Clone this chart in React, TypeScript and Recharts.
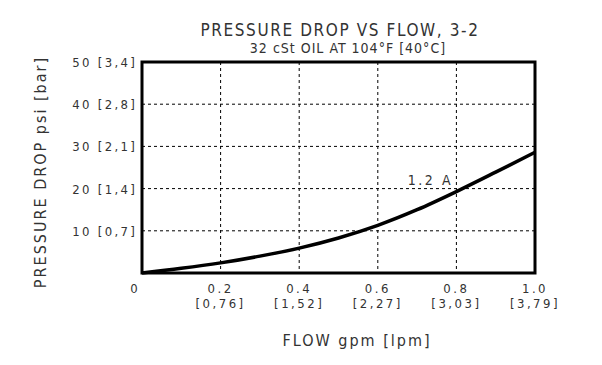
import { LineChart, Line, XAxis, YAxis, CartesianGrid, ReferenceArea } from 'recharts';

const FLOW = [0, 0.1, 0.2, 0.3, 0.4, 0.5, 0.6, 0.7, 0.8, 0.9, 1.0];
const DROP = [0, 1.1, 2.4, 4.0, 5.9, 8.3, 11.3, 15.0, 19.3, 23.9, 28.6];

const X_TICKS = [0, 0.2, 0.4, 0.6, 0.8, 1.0];
const X_TICK_LABELS = ['0', '0.2', '0.4', '0.6', '0.8', '1.0'];
const X_TICK_METRIC = ['', '[0,76]', '[1,52]', '[2,27]', '[3,03]', '[3,79]'];

const Y_TICKS = [10, 20, 30, 40, 50];
const Y_TICK_LABELS = ['10 [0,7]', '20 [1,4]', '30 [2,1]', '40 [2,8]', '50 [3,4]'];

const FONT = '"DejaVu Sans Condensed", "DejaVu Sans", sans-serif';
const INK = '#333';

const data = FLOW.map((f, i) => ({ flow: f, drop: DROP[i] }));

function XTick(props: any) {
  const { x, y, payload } = props;
  const i = X_TICKS.indexOf(payload.value);
  if (i === 0) {
    return (
      <text x={x - 8} y={y + 12} textAnchor="middle" fontSize={13} fill={INK} fontFamily={FONT}>
        0
      </text>
    );
  }
  return (
    <g>
      <text x={x} y={y + 12} textAnchor="middle" fontSize={13} fill={INK} fontFamily={FONT} letterSpacing={2.5}>
        {X_TICK_LABELS[i]}
      </text>
      <text x={x} y={y + 27} textAnchor="middle" fontSize={13} fill={INK} fontFamily={FONT} letterSpacing={2.5}>
        {X_TICK_METRIC[i]}
      </text>
    </g>
  );
}

function YTick(props: any) {
  const { x, y, payload } = props;
  const i = Y_TICKS.indexOf(payload.value);
  if (i < 0) return null;
  return (
    <text x={x + 3} y={y + 5} textAnchor="end" fontSize={13} fill={INK} fontFamily={FONT} letterSpacing={2.3}>
      {Y_TICK_LABELS[i]}
    </text>
  );
}

export default function App() {
  return (
    <div style={{ position: 'absolute', left: 0, top: 0, width: 602, height: 365, background: '#fff' }}>
      <svg width={602} height={365} style={{ position: 'absolute', left: 0, top: 0 }}>
        <text x={340} y={36} textAnchor="middle" fontSize={17} fill={INK} fontFamily={FONT} letterSpacing={1.6}>
          PRESSURE DROP VS FLOW, 3-2
        </text>
        <text x={348} y={53} textAnchor="middle" fontSize={14} fill={INK} fontFamily={FONT} letterSpacing={1}>
          32 cSt OIL AT 104°F [40°C]
        </text>
        <text
          x={0}
          y={0}
          transform="translate(46,172) rotate(-90)"
          textAnchor="middle"
          fontSize={16}
          fill={INK}
          fontFamily={FONT}
          letterSpacing={2}
        >
          PRESSURE DROP psi [bar]
        </text>
        <text x={357} y={346} textAnchor="middle" fontSize={16} fill={INK} fontFamily={FONT} letterSpacing={2}>
          FLOW gpm [lpm]
        </text>
      </svg>
      <LineChart
        width={602}
        height={365}
        data={data}
        margin={{ top: 62, right: 67, left: 0, bottom: 0 }}
        style={{ position: 'absolute', left: 0, top: 0 }}
      >
        <CartesianGrid stroke="#000" strokeDasharray="3 3" strokeWidth={1} />
        <XAxis
          dataKey="flow"
          type="number"
          domain={[0, 1]}
          ticks={X_TICKS}
          height={92}
          axisLine={false}
          tickLine={false}
          tick={<XTick />}
          interval={0}
        />
        <YAxis
          type="number"
          domain={[0, 50]}
          ticks={[0, ...Y_TICKS]}
          width={142}
          axisLine={false}
          tickLine={false}
          tick={<YTick />}
          interval={0}
        />
        <ReferenceArea x1={0} x2={1} y1={0} y2={50} fill="none" stroke="#000" strokeWidth={3} ifOverflow="visible" />
        <Line
          type="monotone"
          dataKey="drop"
          stroke="#000"
          strokeWidth={3.5}
          dot={false}
          isAnimationActive={false}
        />
      </LineChart>
      <svg width={602} height={365} style={{ position: 'absolute', left: 0, top: 0, pointerEvents: 'none' }}>
        <text x={453} y={185} textAnchor="end" fontSize={14} fill={INK} fontFamily={FONT} letterSpacing={2.5}>
          1.2 A
        </text>
      </svg>
    </div>
  );
}
